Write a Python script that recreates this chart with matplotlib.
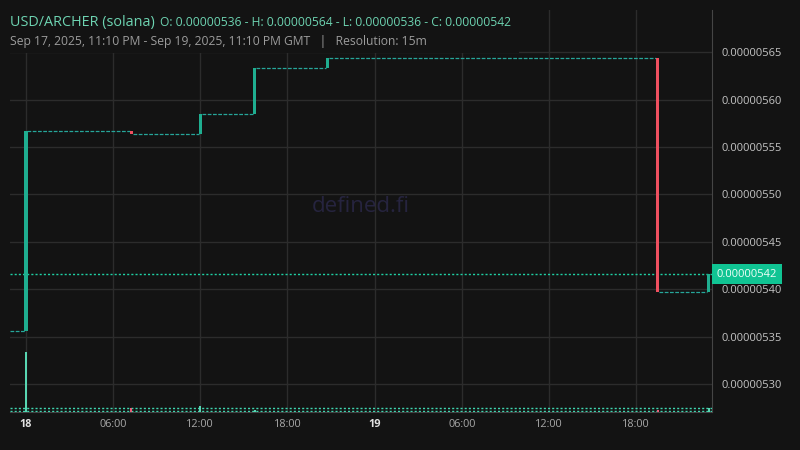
import matplotlib
matplotlib.use('Agg')
import matplotlib.pyplot as plt
import matplotlib.patches as patches
import pandas as pd

plt.rcParams['font.family'] = ['Open Sans', 'DejaVu Sans']

# 15m candles where the price actually moved
candle_times = ['2025-09-18 00:00', '2025-09-18 07:15', '2025-09-18 12:00', '2025-09-18 15:45',
                '2025-09-18 20:45', '2025-09-19 19:30', '2025-09-19 23:00']
candle_open = [5.3556e-6, 5.5672e-6, 5.5637e-6, 5.5852e-6, 5.6338e-6, 5.6437e-6, 5.3968e-6]
candle_close = [5.5672e-6, 5.5637e-6, 5.5852e-6, 5.6338e-6, 5.6437e-6, 5.3968e-6, 5.4159e-6]
first_bar = '2025-09-17 23:00'

volume_times = ['2025-09-18 00:00', '2025-09-18 07:15', '2025-09-18 12:00', '2025-09-18 15:45',
                '2025-09-19 19:30', '2025-09-19 23:00']
volume = [100, 6.5, 10, 3.5, 3, 6.5]
volume_up = [True, False, True, True, False, True]
volume_lines = [6.5, 1.2]

last_price = 5.4159e-6
last_label = '0.00000542'

y_ticks = [5.30e-6, 5.35e-6, 5.40e-6, 5.45e-6, 5.50e-6, 5.55e-6, 5.60e-6, 5.65e-6]
x_tick_times = ['2025-09-18 00:00', '2025-09-18 06:00', '2025-09-18 12:00', '2025-09-18 18:00',
                '2025-09-19 00:00', '2025-09-19 06:00', '2025-09-19 12:00', '2025-09-19 18:00']
x_tick_labels = ['18', '06:00', '12:00', '18:00', '19', '06:00', '12:00', '18:00']

title = 'USD/ARCHER (solana)'
ohlc_text = 'O: 0.00000536 - H: 0.00000564 - L: 0.00000536 - C: 0.00000542'
range_text = 'Sep 17, 2025, 11:10 PM - Sep 19, 2025, 11:10 PM GMT   |   Resolution: 15m'

bg = '#131313'
up = '#1fae90'
down = '#ef5060'
base = pd.Timestamp('2025-09-18 00:00')


def hrs(t):
    return (pd.Timestamp(t) - base) / pd.Timedelta(hours=1)


fig = plt.figure(figsize=(8, 4.5), dpi=100, facecolor=bg)
ax = fig.add_axes([10 / 800, 38 / 450, 702 / 800, 402 / 450])
ax2 = ax.twinx()  # volume, made first so it doesn't move the price ticks
ax.set_facecolor(bg)
ax.set_xlim(-1.1, 47.23)
ax.set_ylim(5.2705e-6, 5.6946e-6)

ax.set_axisbelow(True)
ax.grid(True, color='#2c2c2c', lw=1)
for s in ['left', 'top']:
    ax.spines[s].set_visible(False)
for s in ['right', 'bottom']:
    ax.spines[s].set_color('#454545')

ax.yaxis.tick_right()
ax.yaxis.set_label_position('right')
ax.set_yticks(y_ticks)
ax.set_yticklabels(['%.8f' % v for v in y_ticks])
ax.tick_params(axis='y', length=0, pad=7, labelsize=8, labelcolor='#c4c4c4')
ax.set_xticks([hrs(t) for t in x_tick_times])
ax.set_xticklabels(x_tick_labels)
ax.tick_params(axis='x', length=0, pad=5, labelsize=7.8, labelcolor='#a8a8a8')
for lab in ax.get_xticklabels():
    if ':' not in lab.get_text():
        lab.set_fontweight('bold')
        lab.set_color('#e2e2e2')

# header area hides the grid behind the legend text
ax.add_patch(patches.Rectangle((0, (412 - 53) / 402), (519 - 10) / 702, 1, transform=ax.transAxes,
                               facecolor=bg, edgecolor='none', zorder=1))

# flat stretches between moves
tc = [hrs(t) for t in candle_times]
ax.hlines(candle_open[0], hrs(first_bar) - 0.12, tc[0] - 0.1, color='#26a69a', lw=0.9,
          linestyles=(0, (3, 1.2)), zorder=2)
for i in range(len(tc) - 1):
    ax.hlines(candle_close[i], tc[i] + 0.1, tc[i + 1] - 0.1, color='#26a69a', lw=0.9,
              linestyles=(0, (3, 1.2)), zorder=2)

for t, o, c in zip(tc, candle_open, candle_close):
    ax.bar(t, c - o, bottom=o, width=0.23, color=up if c >= o else down, zorder=3)

ax.axhline(last_price, color='#1fd0a4', lw=1, ls=(0, (1.5, 1.5)), zorder=2.5)
ax.annotate(last_label, xy=(1, last_price), xycoords=('axes fraction', 'data'),
            xytext=(3.4, 0), textcoords='offset points', va='center', ha='left',
            fontsize=8, color='#f0fff8', annotation_clip=False,
            bbox=dict(boxstyle='square,pad=0.4', fc='#10c493', ec='none'))

ax.text(0.5, 0.51, 'defined.fi', transform=ax.transAxes, ha='center', va='center',
        fontsize=16, color='#26243f', zorder=1.5)

# volume
ax2.set_ylim(0, 670)
ax2.axis('off')
ax2.bar([hrs(t) for t in volume_times], volume, width=0.14,
        color=['#58d6b2' if u else '#e8607a' for u in volume_up], zorder=3)
for v in volume_lines:
    ax2.axhline(v, color='#3fd6b0', lw=1, ls=(0, (1.5, 1.5)))

fig.text(10 / 800, 1 - 26 / 450, title, fontsize=10.4, color='#6dd3b1', va='baseline')
fig.text(160 / 800, 1 - 26 / 450, ohlc_text, fontsize=8.7, color='#6dd3b1', va='baseline')
fig.text(10 / 800, 1 - 45 / 450, range_text, fontsize=8.7, color='#9c9c9c', va='baseline')

fig.savefig('out.png', dpi=100, facecolor=bg)
